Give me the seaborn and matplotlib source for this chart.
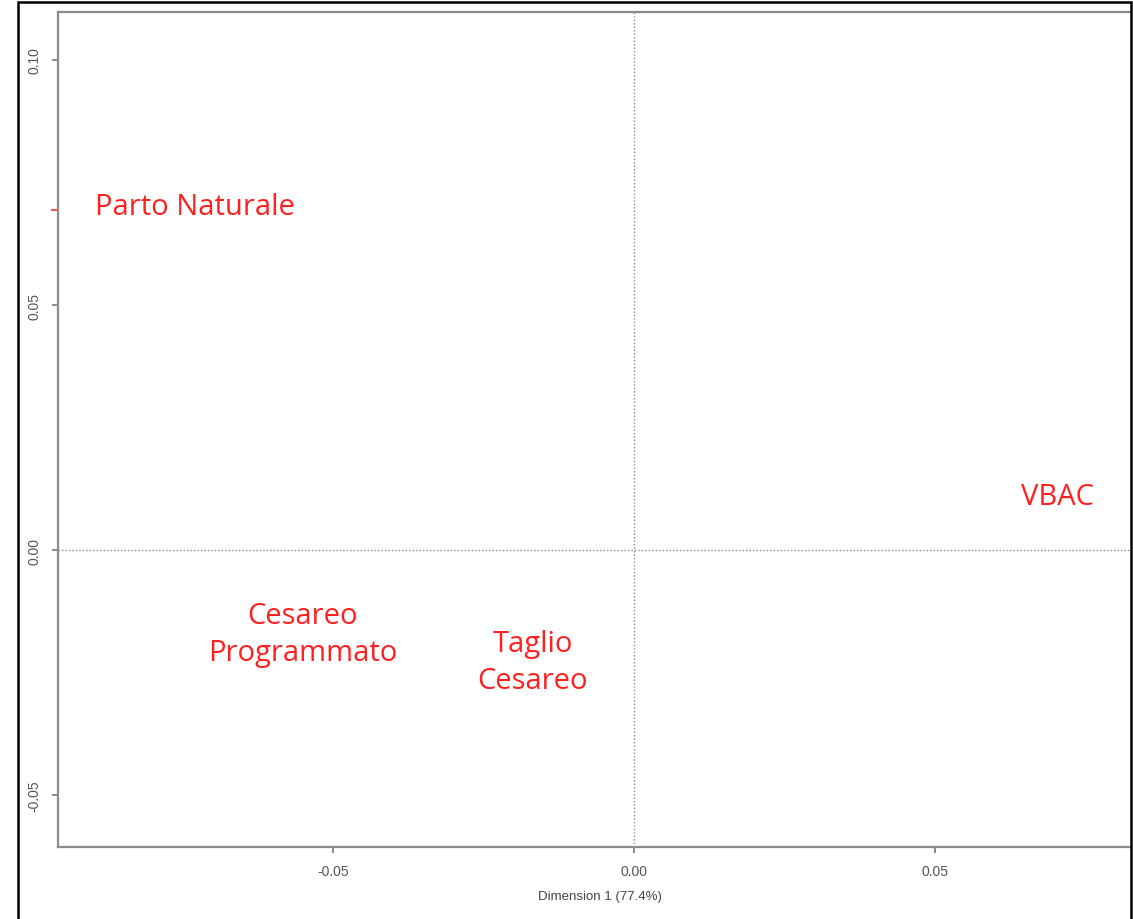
import matplotlib
matplotlib.use("Agg")
import matplotlib.pyplot as plt
from matplotlib.patches import Rectangle
import seaborn as sns
import pandas as pd

# ---- data ----
categories = ["Parto Naturale", "VBAC", "Cesareo\nProgrammato", "Taglio\nCesareo"]
label_dim1 = [-0.0729, 0.0704, -0.0551, -0.0168]
label_dim2 = [0.0702, 0.0110, -0.0171, -0.0229]
point_dim1 = [-0.0962]
point_dim2 = [0.0694]
xticks = [-0.05, 0.00, 0.05]
yticks = [-0.05, 0.00, 0.05, 0.10]
xlabel = "Dimension 1 (77.4%)"

sns.set_theme(style="white")
plt.rcParams['font.family'] = ['Liberation Sans', 'DejaVu Sans']

W, H = 1133, 920
fig = plt.figure(figsize=(W / 100, H / 100), dpi=100)
ax = fig.add_axes([58 / W, (H - 848) / H, (1131 - 58) / W, (848 - 13) / H])

pts = pd.DataFrame({"d1": point_dim1, "d2": point_dim2})
sns.scatterplot(data=pts, x="d1", y="d2", ax=ax, marker="_", s=30,
                color="#ff2a2a", linewidth=1.2, clip_on=False, legend=False)

ax.set_xlim(-0.0957, 0.0826)
ax.set_ylim(-0.0606, 0.1098)

ax.axhline(0, color="#8a8a8a", lw=1.0, ls=(0, (1, 1.5)), zorder=0)
ax.axvline(0, color="#8a8a8a", lw=1.0, ls=(0, (1, 1.5)), zorder=0)

for name, x, y in zip(categories, label_dim1, label_dim2):
    ax.text(x, y, name, color="#ff2020", fontsize=21, family="Open Sans",
            fontweight="medium", ha="center", va="center", linespacing=1.35)

ax.set_xticks(xticks)
ax.set_yticks(yticks)
ax.set_xticklabels([f"{t:.2f}" for t in xticks])
ax.set_yticklabels([f"{t:.2f}" for t in yticks], rotation=90, va="center")
ax.tick_params(axis="both", which="both", direction="out", length=4, width=1.2,
               color="#777777", labelcolor="#555555", labelsize=10, pad=8,
               bottom=True, left=True)

for side in ["left", "top", "bottom"]:
    ax.spines[side].set_color("#8c8c8c")
    ax.spines[side].set_linewidth(1.6)
ax.spines["right"].set_visible(False)

ax.set_xlabel(xlabel, fontsize=9.5, color="#444444")
ax.xaxis.set_label_coords((600 - 58) / (1131 - 58), (848 - 897) / (848 - 13))
ax.xaxis.label.set_va("center")
ax.set_ylabel("")

# outer black frame of the picture
fig.add_artist(Rectangle((18 / W, -0.01), (1131 - 18) / W, (H - 3) / H + 0.01,
                         transform=fig.transFigure, fill=False,
                         edgecolor="black", linewidth=1.8, zorder=10))

fig.savefig("out.png", dpi=100)
